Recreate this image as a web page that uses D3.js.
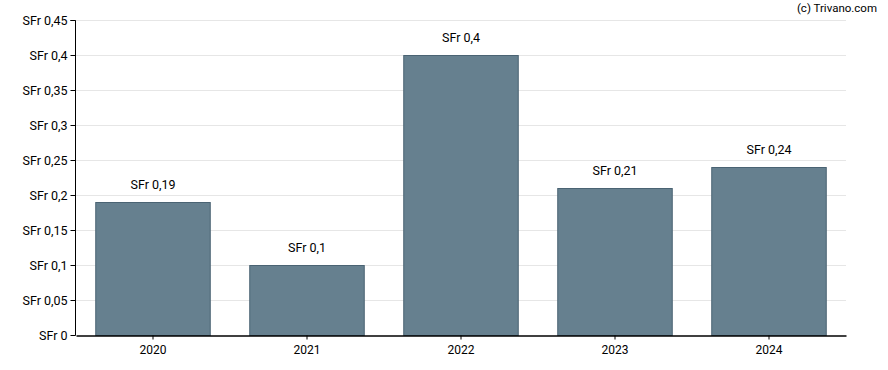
<!DOCTYPE html>
<html>
<head>
<meta charset="utf-8">
<script src="https://cdn.jsdelivr.net/npm/d3@7"></script>
<style>
  body { margin: 0; background: #fff; }
  text { font-family: Roboto, "Liberation Sans", Arial, sans-serif; }
</style>
</head>
<body>
<script>
var w = 888;
var h = 370;

// data
var years = ["2020", "2021", "2022", "2023", "2024"];
var dividends = [0.19, 0.1, 0.4, 0.21, 0.24];
var yTicks = [0, 0.05, 0.1, 0.15, 0.2, 0.25, 0.3, 0.35, 0.4, 0.45];

var margin = {left: 76, right: 42, top: 20, bottom: 35};

function sfr(v) {
  return "SFr " + String(+v.toFixed(2)).replace(".", ",");
}

var svg = d3.select("body")
            .append("svg")
            .attr("width", w)
            .attr("height", h);

var x = d3.scaleBand()
          .domain(years)
          .range([margin.left, w - margin.right])
          .paddingInner(0.25)
          .paddingOuter(0.125);

var y = d3.scaleLinear()
          .domain([0, 0.45])
          .range([h - margin.bottom, margin.top]);

//gridlines
svg.append("g")
   .selectAll("line")
   .data(yTicks.slice(1))
   .enter()
   .append("line")
   .attr("x1", margin.left)
   .attr("x2", w - margin.right)
   .attr("y1", function(d) { return Math.round(y(d)) + 0.5; })
   .attr("y2", function(d) { return Math.round(y(d)) + 0.5; })
   .style("stroke", "#e6e6e6")
   .style("stroke-width", 1);

//bars
svg.append("g")
   .selectAll("rect")
   .data(dividends)
   .enter()
   .append("rect")
   .attr("x", function(d, i) { return x(years[i]) + 0.5; })
   .attr("y", function(d) { return Math.round(y(d)) + 0.5; })
   .attr("width", x.bandwidth() - 1)
   .attr("height", function(d) { return Math.round(y(0)) - Math.round(y(d)); })
   .style("fill", "#66808f")
   .style("stroke", "#4a6373")
   .style("stroke-width", 1);

//value labels
svg.append("g")
   .selectAll("text")
   .data(dividends)
   .enter()
   .append("text")
   .attr("x", function(d, i) { return x(years[i]) + x.bandwidth() / 2; })
   .attr("y", function(d) { return y(d) - 13; })
   .attr("text-anchor", "middle")
   .style("font-size", "12.5px")
   .style("fill", "#000")
   .text(function(d) { return sfr(d); });

//y axis
var yAxis = svg.append("g")
   .attr("transform", "translate(" + (margin.left - 0.5) + ",0)")
   .call(d3.axisLeft(y).tickValues(yTicks).tickSize(5).tickPadding(3).tickFormat(sfr));
yAxis.selectAll("text").style("font-size", "12.5px").style("fill", "#000").style("font-family", "Roboto, sans-serif");
yAxis.selectAll("line").style("stroke", "#000");
yAxis.select(".domain").style("stroke", "#000").attr("d", "M-5," + (Math.round(y(0.45)) + 0.5) + "H0V" + (Math.round(y(0)) + 0.5));

//x axis
var xAxis = svg.append("g")
   .attr("transform", "translate(0," + (Math.round(y(0)) + 0.5) + ")")
   .call(d3.axisBottom(x).tickSize(4).tickPadding(6).tickSizeOuter(0));
xAxis.selectAll("text").style("font-size", "12px").style("fill", "#000").style("font-family", "Roboto, sans-serif");
xAxis.selectAll("line").style("stroke", "#000");
xAxis.select(".domain").style("stroke", "#000").style("stroke-width", 1.5);

//copyright
svg.append("text")
   .attr("x", 877)
   .attr("y", 12)
   .attr("text-anchor", "end")
   .style("font-size", "11.5px")
   .style("fill", "#000")
   .text("(c) Trivano.com");
</script>
</body>
</html>
